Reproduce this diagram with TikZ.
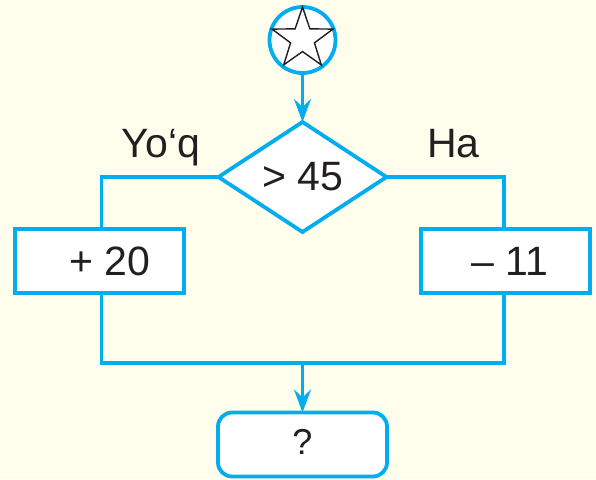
\documentclass[tikz,border=0pt]{standalone}
\usepackage{fontspec}
\setmainfont{Liberation Sans}
\usetikzlibrary{shapes.geometric,arrows.meta}
\definecolor{flowline}{RGB}{0,174,239}
\definecolor{bgyellow}{RGB}{255,253,236}
\definecolor{inkblack}{RGB}{35,31,32}
\tikzset{
  flowbox/.style={draw=flowline, line width=3.8pt, fill=white, inner sep=0pt, outer sep=0pt,
    minimum width=169pt, minimum height=64pt, text=inkblack,
    font=\fontsize{41}{48}\selectfont},
  flowlink/.style={draw=flowline, line width=3.5pt},
  flowarrow/.style={flowlink, -{Stealth[length=23pt, width=17pt, inset=8pt]}},
  branchlabel/.style={anchor=base, inner sep=0pt, text=inkblack, font=\fontsize{41}{48}\selectfont}
}
\begin{document}
\begin{tikzpicture}[x=1pt, y=-1pt]
\fill[bgyellow] (0,0) rectangle (596,479);
\useasboundingbox (0,0) rectangle (596,479);
% start
\node[circle, draw=flowline, line width=3.8pt, fill=white, minimum size=66pt, inner sep=0pt, outer sep=0pt] (start) at (302.5,40) {};
\node[star, star points=5, star point ratio=2.55, draw=inkblack, line width=1.4pt, fill=white, minimum size=64pt, inner sep=0pt] (startstar) at (302.5,39) {};
% decision
\node[diamond, draw=flowline, line width=3.8pt, fill=white, minimum width=168pt, minimum height=110pt, inner sep=0pt, outer sep=0pt, text=inkblack, font=\fontsize{41}{48}\selectfont] (test) at (302.5,177) {> 45};
% branches
\node[flowbox] (plus) at (99.5,261) {\hspace*{21pt}+ 20};
\node[flowbox] (minus) at (505.5,261) {\hspace*{9pt}– 11};
\node[flowbox, rounded corners=14pt, font=\fontsize{36}{42}\selectfont] (result) at (302.5,444.5) {\raisebox{5pt}{?}};
\coordinate (merge) at (302.5,363);
% labels
\node[branchlabel] (nolabel) at (161,157) {Yo‘q};
\node[branchlabel] (yeslabel) at (453.5,157) {Ha};
% connectors
\draw[flowarrow] (start.south) -- (test.north);
\draw[flowlink] (test.west) -| ([xshift=2pt]plus.north);
\draw[flowlink] (test.east) -| ([xshift=-1.5pt]minus.north);
\draw[flowlink] ([xshift=2pt]plus.south) |- (merge) -| ([xshift=-1.5pt]minus.south);
\draw[flowarrow] (merge) -- (result.north);
\end{tikzpicture}
\end{document}
